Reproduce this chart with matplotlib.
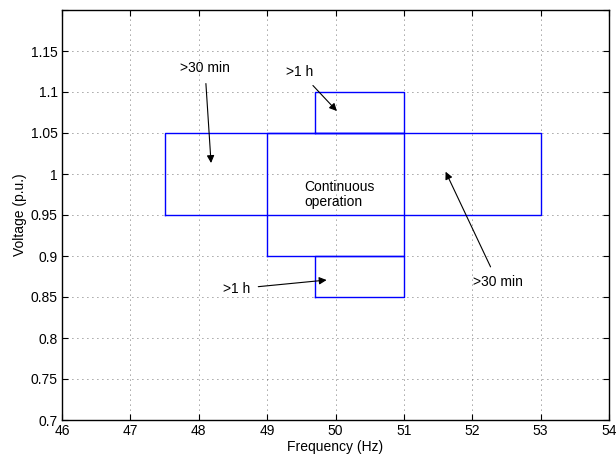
import matplotlib
matplotlib.use("Agg")
import matplotlib.pyplot as plt

plt.rcParams['font.family'] = ['Liberation Sans', 'DejaVu Sans']

# Rectangles: (f_min, f_max, v_min, v_max)
rect_names = ["wide band", "continuous", "upper 1h", "lower 1h"]
f_min = [47.5, 49.0, 49.7, 49.7]
f_max = [53.0, 51.0, 51.0, 51.0]
v_min = [0.95, 0.90, 1.05, 0.85]
v_max = [1.05, 1.05, 1.10, 0.90]

x_ticks = [46, 47, 48, 49, 50, 51, 52, 53, 54]
y_ticks = [0.7, 0.75, 0.8, 0.85, 0.9, 0.95, 1.0, 1.05, 1.1, 1.15, 1.2]
y_tick_labels = ["0.7", "0.75", "0.8", "0.85", "0.9", "0.95", "1", "1.05", "1.1", "1.15", ""]

# Annotations: text, text position, arrow tip
ann_texts = [">30 min", ">1 h", ">30 min", ">1 h"]
ann_text_xy = [(48.09, 1.129), (49.48, 1.1248), (52.37, 0.8687), (48.55, 0.860)]
ann_tip_xy = [(48.18, 1.0134), (50.02, 1.0768), (51.61, 1.0028), (49.87, 0.8707)]

fs = 10

fig = plt.figure(figsize=(6.16, 4.59), dpi=100)
ax = fig.add_axes([62/616, 1 - 420/459, (609-62)/616, (420-10)/459])

for a, b, c, d in zip(f_min, f_max, v_min, v_max):
    ax.plot([a, b, b, a, a], [c, c, d, d, c], color='#0000ff', lw=1.0)

ax.set_xlim(46, 54)
ax.set_ylim(0.7, 1.2)
ax.set_xticks(x_ticks)
ax.set_yticks(y_ticks)
ax.set_yticklabels(y_tick_labels)
ax.tick_params(direction='in', top=True, right=True, labelsize=fs, length=4, width=0.8, pad=3)
ax.grid(True, linestyle=(0, (1, 5)), color='#444444', lw=0.6)
for s in ax.spines.values():
    s.set_linewidth(1.0)

ax.set_xlabel("Frequency (Hz)", fontsize=fs, labelpad=1)
ax.set_ylabel("Voltage (p.u.)", fontsize=fs, labelpad=3)

for t, (tx, ty), (hx, hy) in zip(ann_texts, ann_text_xy, ann_tip_xy):
    ax.annotate(t, xy=(hx, hy), xytext=(tx, ty), fontsize=fs, ha='center', va='center',
                arrowprops=dict(arrowstyle='-|>', color='black', lw=0.8,
                                mutation_scale=11, shrinkA=4, shrinkB=0))

ax.text(49.54, 0.9748, "Continuous\noperation", fontsize=fs, ha='left', va='center',
        linespacing=1.1)

fig.savefig("out.png", dpi=100)
